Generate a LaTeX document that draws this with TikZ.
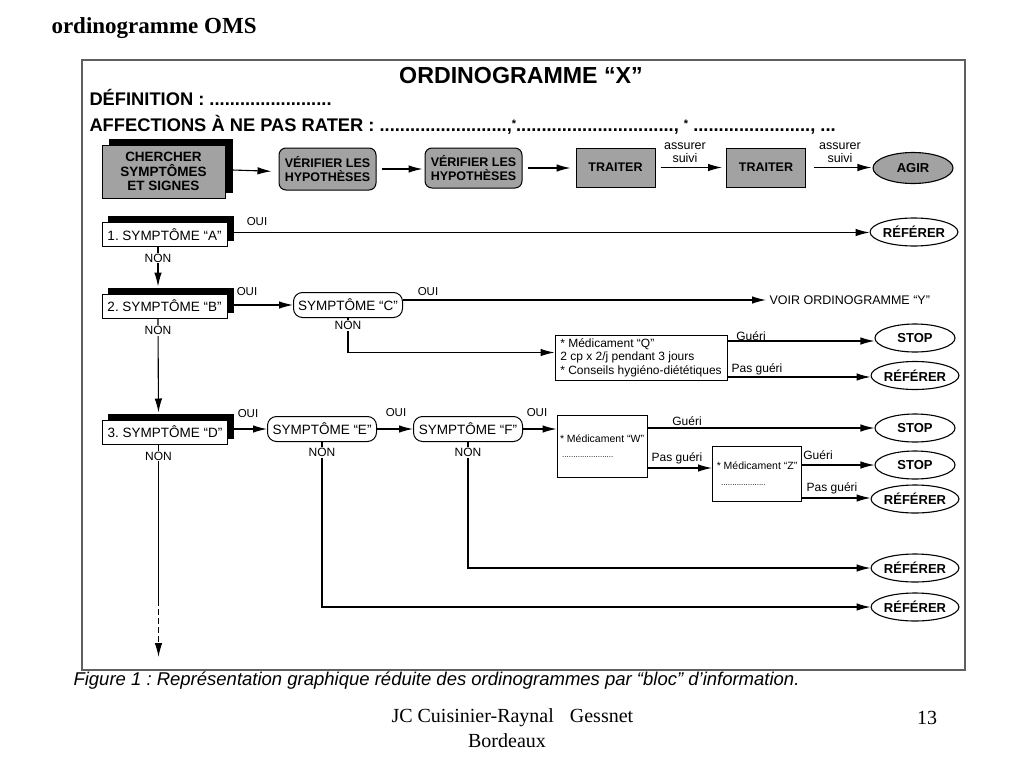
\documentclass[tikz,border=0pt]{standalone}
\usepackage{fontspec}
\setmainfont{Liberation Serif}
\setsansfont{Liberation Sans}
\usetikzlibrary{shapes.geometric,arrows.meta}
\definecolor{boxgray}{RGB}{162,162,162}
\definecolor{framegray}{RGB}{95,95,95}
\newcommand\fsz[2]{\fontsize{#1}{#2}\selectfont}
\frenchspacing
\begin{document}
\begin{tikzpicture}[x=1pt,y=-1pt,
  con/.style={line width=1.1pt},
  arr/.style={con,-{Latex[length=14pt,width=7.5pt]}},
  gbox/.style={draw,line width=1pt,fill=boxgray,inner sep=0pt,align=center,font=\sffamily\bfseries\fsz{12.5}{14}},
  grbox/.style={gbox,rounded corners=7pt},
  blackshadow/.style={preaction={fill=black,draw=black,transform canvas={shift={(6pt,6pt)}}}},
  sbox/.style={draw,line width=1pt,fill=white,inner sep=0pt,minimum width=125pt,minimum height=24pt,font=\sffamily\fsz{13.5}{15},blackshadow},
  rbox/.style={draw,line width=1pt,fill=white,rounded corners=9pt,inner sep=0pt,minimum width=109pt,minimum height=25pt,font=\sffamily\fsz{13.5}{15}},
  mbox/.style={draw,line width=1pt,fill=white,inner sep=3pt,align=left},
  ell/.style={ellipse,draw,line width=1.1pt,fill=white,inner sep=0pt,minimum width=80pt,minimum height=28pt,font=\sffamily\bfseries\fsz{13}{14}},
  oui/.style={font=\sffamily\fsz{11.5}{13},inner sep=0pt},
  non/.style={font=\sffamily\fsz{12}{13},fill=white,inner sep=1pt},
  gl/.style={font=\sffamily\fsz{12}{13},inner sep=0pt},
  hdr/.style={anchor=west,font=\sffamily\bfseries\fsz{18.3}{20}},
  foot/.style={font=\rmfamily\fsz{20}{22}}
]
\fill[white] (0,0) rectangle (1024,768);
\useasboundingbox (0,0) rectangle (1024,768);

% frame
\draw[framegray,line width=1.6pt] (82,60) rectangle (965,670);

% titles
\node[anchor=west,font=\rmfamily\bfseries\fsz{23}{25}] (ttl) at (48,28) {ordinogramme OMS};
\node[font=\sffamily\bfseries\fsz{23.2}{25}] (ox) at (521,76) {ORDINOGRAMME “X”};
\node[hdr] (def) at (86,97) {DÉFINITION : ........................};
\node[hdr] (aff) at (86,125) {AFFECTIONS À NE PAS RATER : .........................,\raisebox{4pt}{\fsz{11}{11}*}...............................,\ \raisebox{4pt}{\fsz{11}{11}*}\ .......................,\ ...};

% row 1
\node[gbox,font=\sffamily\bfseries\fsz{13.5}{14.5},minimum width=123pt,minimum height=53pt,preaction={fill=black,draw=black,transform canvas={shift={(7pt,6pt)}}}] (cher) at (163.5,171.5) {CHERCHER\\SYMPTÔMES\\ET SIGNES};
\node[grbox,minimum width=97pt,minimum height=42pt] (v1) at (327.5,169) {VÉRIFIER LES\\HYPOTHÈSES};
\node[grbox,minimum width=97pt,minimum height=40pt] (v2) at (473.5,168) {VÉRIFIER LES\\HYPOTHÈSES};
\node[gbox,minimum width=79pt,minimum height=39pt] (t1) at (615.5,167.5) {TRAITER};
\node[gbox,minimum width=79pt,minimum height=39pt] (t2) at (766,167.5) {TRAITER};
\node[ell,fill=boxgray,minimum width=80pt,minimum height=31pt] (agir) at (913,168) {AGIR};
\node[gl,align=center,font=\sffamily\fsz{12.5}{13}] (as1) at (685,152.5) {assurer\\suivi};
\node[gl,align=center,font=\sffamily\fsz{12.5}{13}] (as2) at (840,152.5) {assurer\\suivi};

\draw[arr,shorten >=7pt] ([xshift=7pt,yshift=1.5pt]cher.east) -- (cher.east -| v1.west);
\draw[arr,shorten <=5pt,shorten >=2pt] (v1.east) -- (v1.east -| v2.west);
\draw[arr,shorten <=5pt,shorten >=5pt] (v2.east) -- (v2.east -| t1.west);
\draw[arr,shorten <=5pt,shorten >=4pt] (t1.east) -- (t2.west);
\draw[arr,shorten <=8pt,shorten >=1pt] (t2.east) -- (t2.east -| agir.west);

% row A
\node[sbox] (sa) at (164.5,234.5) {1. SYMPTÔME “A”};
\node[ell] (ra) at (914,232) {RÉFÉRER};
\node[oui] (ouia) at (257,222) {OUI};
\coordinate (sae) at ([xshift=6pt,yshift=2pt]sa.east);
\draw[arr] (sae) -- (sae -| ra.west);

% row B
\node[sbox] (sb) at (164.5,306) {2. SYMPTÔME “B”};
\node[rbox] (sc) at (348,305) {SYMPTÔME “C”};
\node[oui] (ouib) at (247,292) {OUI};
\node[oui] (ouic) at (428,292) {OUI};
\node[anchor=west,font=\sffamily\fsz{12.5}{14}] (voir) at (766,300.5) {VOIR ORDINOGRAMME “Y”};
\draw[arr,shorten >=7pt] ([xshift=-6.5pt]sa.south) -- node[non,pos=0.24]{NON} ([xshift=-6.5pt]sb.north);
\draw[arr] ([xshift=6pt,yshift=1pt]sb.east) -- (sc.west);
\coordinate (sce) at ([yshift=5pt]sc.east);
\draw[arr] (sce) -- (sce -| voir.west);

\node[mbox,minimum width=172pt,font=\sffamily\fsz{12}{13.5},minimum height=45pt,inner sep=2pt] (q) at (641,357.5) {* Médicament “Q”\\2 cp x 2/j pendant 3 jours\\* Conseils hygiéno-diététiques};
\coordinate (qin) at ([yshift=5pt]q.west);
\draw[arr] (sc.south) -- node[non,pos=0.22]{NON} (sc.south |- qin) -- (qin);
\node[ell] (stop1) at (915,338) {STOP};
\node[ell] (ref1) at (915,375.5) {RÉFÉRER};
\coordinate (q1) at ([yshift=16.5pt]q.east);
\coordinate (q2) at ([yshift=-19.5pt]q.east);
\draw[arr] (q1) -- (q1 -| stop1.west);
\draw[arr] (q2) -- (q2 -| ref1.west);
\node[gl] (g1) at (751,336) {Guéri};
\node[gl] (pg1) at (757,369) {Pas guéri};

% row D
\node[sbox] (sd) at (165,432) {3. SYMPTÔME “D”};
\node[rbox] (se) at (322,429) {SYMPTÔME “E”};
\node[rbox] (sf) at (468,429) {SYMPTÔME “F”};
\node[oui] (ouid) at (248,414) {OUI};
\node[oui] (ouie) at (396,413) {OUI};
\node[oui] (ouif) at (537,413) {OUI};
\draw[arr,shorten >=7pt] ([xshift=-6.5pt]sb.south) -- node[non,pos=0.12]{NON} ([xshift=-6.5pt]sd.north);
\draw[arr] ([xshift=6pt,yshift=3pt]sd.east) -- (se.west);
\draw[arr] (se.east) -- (sf.west);

\node[mbox,minimum width=90pt,minimum height=62pt,font=\sffamily\fsz{10.5}{12},inner sep=1pt] (w) at (602,446) {* Médicament “W”\\[3pt]{\fsz{8}{8}\ .......................}};
\node[mbox,minimum width=89pt,minimum height=55pt,font=\sffamily\fsz{10.5}{12},inner sep=1pt] (z) at (757,474) {* Médicament “Z”\\[4pt]{\fsz{8}{8}\ \ ....................}};
\draw[arr] (sf.east) -- (sf.east -| w.west);

\node[ell] (stop2) at (915,428) {STOP};
\node[ell] (stop3) at (915,465) {STOP};
\node[ell] (ref2) at (915,499) {RÉFÉRER};
\node[ell] (ref3) at (915,568) {RÉFÉRER};
\node[ell] (ref4) at (915,607) {RÉFÉRER};

\coordinate (w1) at ([yshift=18pt]w.east);
\coordinate (w2) at ([yshift=-22pt]w.east);
\coordinate (z1) at ([yshift=9pt]z.east);
\coordinate (z2) at ([yshift=-24pt]z.east);
\draw[arr] (w1) -- (w1 -| stop2.west);
\draw[arr] (w2) -- (w2 -| z.west);
\draw[arr] (z1) -- (z1 -| stop3.west);
\draw[arr] (z2) -- (z2 -| ref2.west);
\node[gl] (g2) at (687,421) {Guéri};
\node[gl] (pg2) at (677,458) {Pas guéri};
\node[gl] (g3) at (818,455) {Guéri};
\node[gl] (pg3) at (832,488) {Pas guéri};

\draw[arr] (sf.south) -- node[non,pos=0.085]{NON} (sf.south |- ref3.west) -- (ref3.west);
\draw[arr] (se.south) -- node[non,pos=0.065]{NON} (se.south |- ref4.west) -- (ref4.west);

\coordinate (dmid) at (158.5,600);
\coordinate (dend) at (158.5,657);
\draw[con] ([xshift=-6.5pt]sd.south) -- node[non,pos=0.075]{NON} (dmid);
\draw[arr,dash pattern=on 6pt off 3pt] (dmid) -- (dend);

% caption and footer
\node[anchor=west,font=\sffamily\itshape\fsz{18.5}{20}] (cap) at (70,681) {Figure 1 : Représentation graphique réduite des ordinogrammes par “bloc” d’information.};
\node[anchor=west,foot] (f1) at (388,718) {JC Cuisinier-Raynal\hspace{16pt}Gessnet};
\node[foot] (f2) at (507,741) {Bordeaux};
\node[foot] (f3) at (927,718) {13};
\end{tikzpicture}
\end{document}
